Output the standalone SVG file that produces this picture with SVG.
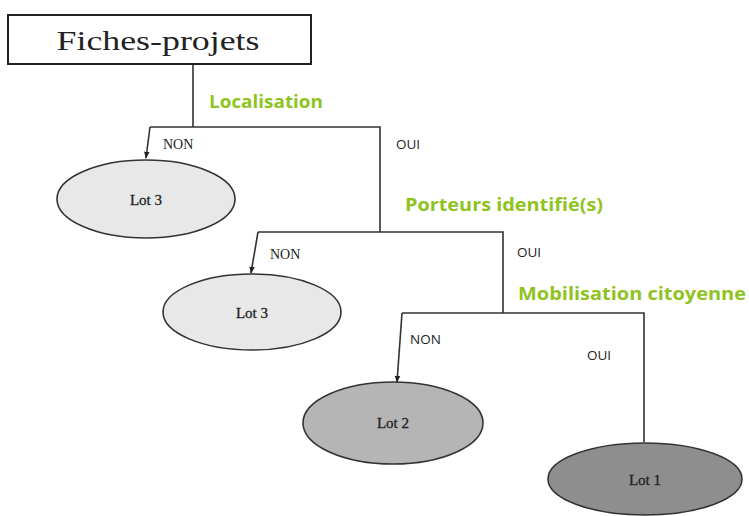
<svg xmlns="http://www.w3.org/2000/svg" width="749" height="516" viewBox="0 0 749 516">
<defs>
<marker id="arr" viewBox="0 0 10 10" refX="9" refY="5" markerWidth="7" markerHeight="7" orient="auto" markerUnits="userSpaceOnUse">
<path d="M0,1 L10,5 L0,9 Z" fill="#222"/>
</marker>
</defs>
<style>
.ln{fill:none;stroke:#333;stroke-width:1.6}
.el{stroke:#333;stroke-width:1.6}
.lot{font-family:"Liberation Serif",serif;font-size:15px;fill:#222;text-anchor:middle;stroke:#222;stroke-width:0.3}
.q{font-family:"Open Sans","Noto Sans",sans-serif;font-weight:700;font-size:18px;fill:#8fc31f}
.ser{font-family:"Liberation Serif",serif;font-size:14px;fill:#222}
.sans{font-family:"Open Sans","Noto Sans",sans-serif;font-size:13.5px;fill:#222}
</style>
<rect width="749" height="516" fill="#fff"/>
<g id="connectors">
<path class="ln" d="M193,64 V127"/>
<path class="ln" d="M150,127 H380 V232"/>
<path class="ln" d="M150,127 L146,158" marker-end="url(#arr)"/>
<path class="ln" d="M258,232 H503 V313"/>
<path class="ln" d="M258,232 L251,273" marker-end="url(#arr)"/>
<path class="ln" d="M402,313 H644 V442"/>
<path class="ln" d="M402,313 L397,382" marker-end="url(#arr)"/>
<text class="q" x="209" y="108" textLength="114" lengthAdjust="spacingAndGlyphs">Localisation</text>
<text class="ser" x="163" y="149">NON</text>
<text class="sans" x="396" y="149">OUI</text>
<text class="q" x="405" y="211" textLength="198" lengthAdjust="spacingAndGlyphs">Porteurs identifié(s)</text>
<text class="ser" x="270" y="259">NON</text>
<text class="sans" x="517" y="257">OUI</text>
<text class="q" x="518" y="300" textLength="228" lengthAdjust="spacingAndGlyphs">Mobilisation citoyenne</text>
<text class="sans" x="410" y="344">NON</text>
<text class="sans" x="587" y="360">OUI</text>
</g>
<g id="fiches">
<rect x="8" y="15" width="303" height="49" fill="#fff" stroke="#222" stroke-width="2"/>
<text x="158" y="50" font-family="Liberation Serif,serif" font-size="28" fill="#222" text-anchor="middle" textLength="203" lengthAdjust="spacingAndGlyphs">Fiches-projets</text>
</g>
<g id="lot3a">
<ellipse class="el" cx="146" cy="199" rx="89" ry="39" fill="#e8e8e8"/>
<text class="lot" x="146" y="205">Lot 3</text>
</g>
<g id="lot3b">
<ellipse class="el" cx="252" cy="312" rx="89" ry="38" fill="#e8e8e8"/>
<text class="lot" x="252" y="318">Lot 3</text>
</g>
<g id="lot2">
<ellipse class="el" cx="393" cy="423" rx="90" ry="41" fill="#b5b5b5"/>
<text class="lot" x="393" y="428">Lot 2</text>
</g>
<g id="lot1">
<ellipse class="el" cx="645" cy="479" rx="97" ry="36" fill="#8e8e8e"/>
<text class="lot" x="645" y="485">Lot 1</text>
</g>
</svg>
